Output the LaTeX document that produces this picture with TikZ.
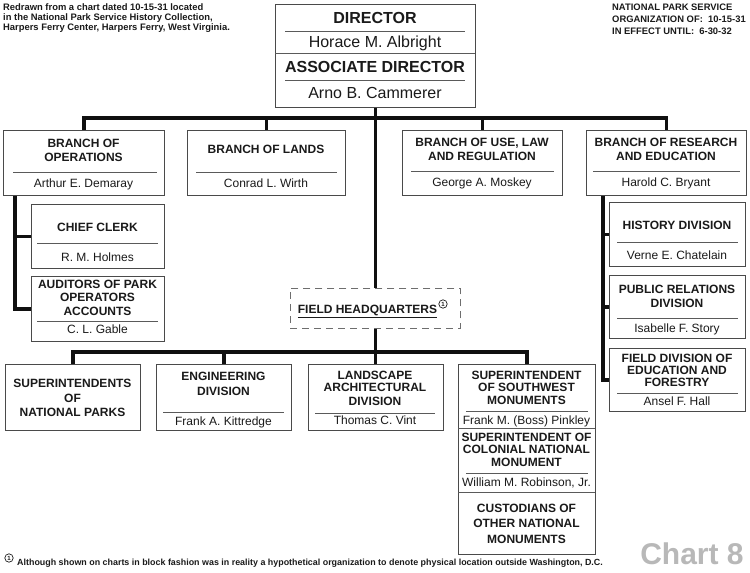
\documentclass[tikz,border=0pt]{standalone}
\usepackage{fontspec}
\setmainfont{Liberation Sans}
\definecolor{txtc}{HTML}{1A1A1A}
\definecolor{boxc}{HTML}{4A4A4A}
\definecolor{sepc}{HTML}{5A5A5A}
\definecolor{linec}{HTML}{101010}
\definecolor{chartc}{HTML}{B8B8B8}
\tikzset{
  orgbox/.style={draw=boxc, line width=0.9pt, inner sep=0pt, anchor=north west},
  conn/.style={draw=linec, line width=3.6pt, line join=miter},
  sepl/.style={draw=sepc, line width=0.7pt},
  hd/.style={font=\bfseries\fontsize{12}{14}\selectfont, anchor=base, inner sep=0pt, text=txtc},
  nm/.style={font=\fontsize{12}{14}\selectfont, anchor=base, inner sep=0pt, text=txtc},
  bighd/.style={font=\bfseries\fontsize{16}{18}\selectfont, anchor=base, inner sep=0pt, text=txtc},
  bignm/.style={font=\fontsize{16}{18}\selectfont, anchor=base, inner sep=0pt, text=txtc},
  note/.style={font=\bfseries\fontsize{9.4}{10}\selectfont, anchor=base west, inner sep=0pt, text=txtc},
  rnote/.style={font=\bfseries\fontsize{9.4}{12}\selectfont, anchor=base west, inner sep=0pt, text=txtc},
  fnmark/.style={draw=txtc, circle, line width=0.7pt, inner sep=1.1pt, font=\bfseries\fontsize{6}{6}\selectfont, text=txtc},
}
\begin{document}
\begin{tikzpicture}[x=1pt,y=-1pt]
\fill[white] (0,0) rectangle (750,573);
\useasboundingbox (0,0) rectangle (750,573);

% notes
\node[note] (tl1) at (3,10) {Redrawn from a chart dated 10-15-31 located};
\node[note] (tl2) at (3,20) {in the National Park Service History Collection,};
\node[note] (tl3) at (3,30) {Harpers Ferry Center, Harpers Ferry, West Virginia.};
\node[rnote] (tr1) at (612,10.5) {NATIONAL PARK SERVICE};
\node[rnote] (tr2) at (612,22.5) {ORGANIZATION OF:\ \ 10-15-31};
\node[rnote] (tr3) at (612,34.5) {IN EFFECT UNTIL:\ \ 6-30-32};

% director
\node[orgbox, minimum width=200pt, minimum height=103pt] (dir) at (275,4) {};
\node[bighd] (dir1) at (375,23) {DIRECTOR};
\draw[sepl] (285,31) -- (465,31);
\node[bignm] (dir2) at (375,47) {Horace M. Albright};
\draw[sepl] (275,53) -- (475,53);
\node[bighd] (dir3) at (375,72) {ASSOCIATE DIRECTOR};
\draw[sepl] (285,80) -- (465,80);
\node[bignm] (dir4) at (375,98) {Arno B. Cammerer};

% branches
\node[orgbox, minimum width=161pt, minimum height=65pt] (ops) at (3,130) {};
\node[hd] (ops1) at (83.5,147) {BRANCH OF};
\node[hd] (ops2) at (83.5,161) {OPERATIONS};
\draw[sepl] (13,172) -- (157,172);
\node[nm] (ops3) at (83.5,187) {Arthur E. Demaray};

\node[orgbox, minimum width=158pt, minimum height=65pt] (lands) at (187,130) {};
\node[hd] (lands1) at (266,153) {BRANCH OF LANDS};
\draw[sepl] (196,172) -- (337,172);
\node[nm] (lands2) at (266,187) {Conrad L. Wirth};

\node[orgbox, minimum width=160pt, minimum height=65pt] (use) at (402,130) {};
\node[hd] (use1) at (482,146) {BRANCH OF USE, LAW};
\node[hd] (use2) at (482,160) {AND REGULATION};
\draw[sepl] (411,171) -- (554,171);
\node[nm] (use3) at (482,186) {George A. Moskey};

\node[orgbox, minimum width=160pt, minimum height=65pt] (res) at (586,130) {};
\node[hd] (res1) at (666,146) {BRANCH OF RESEARCH};
\node[hd] (res2) at (666,160) {AND EDUCATION};
\draw[sepl] (593,171) -- (740,171);
\node[nm] (res3) at (666,186) {Harold C. Bryant};

% left column
\node[orgbox, minimum width=133pt, minimum height=64pt] (clerk) at (31,204) {};
\node[hd] (clerk1) at (97.5,231) {CHIEF CLERK};
\draw[sepl] (37,243) -- (158,243);
\node[nm] (clerk2) at (97.5,261) {R. M. Holmes};

\node[orgbox, minimum width=133pt, minimum height=65pt] (aud) at (31,276) {};
\node[hd] (aud1) at (97.5,288) {AUDITORS OF PARK};
\node[hd] (aud2) at (97.5,301) {OPERATORS};
\node[hd] (aud3) at (97.5,315) {ACCOUNTS};
\draw[sepl] (37,321) -- (158,321);
\node[nm] (aud4) at (97.5,333) {C. L. Gable};

% right column
\node[orgbox, minimum width=136pt, minimum height=64pt] (hist) at (609,202) {};
\node[hd] (hist1) at (677,229) {HISTORY DIVISION};
\draw[sepl] (617,242) -- (738,242);
\node[nm] (hist2) at (677,259) {Verne E. Chatelain};

\node[orgbox, minimum width=136pt, minimum height=63pt] (pr) at (609,275) {};
\node[hd] (pr1) at (677,293) {PUBLIC RELATIONS};
\node[hd] (pr2) at (677,307) {DIVISION};
\draw[sepl] (617,318) -- (738,318);
\node[nm] (pr3) at (677,332) {Isabelle F. Story};

\node[orgbox, minimum width=136pt, minimum height=63pt] (fde) at (609,348) {};
\node[hd] (fde1) at (677,362) {FIELD DIVISION OF};
\node[hd] (fde2) at (677,374) {EDUCATION AND};
\node[hd] (fde3) at (677,386) {FORESTRY};
\draw[sepl] (617,393) -- (738,393);
\node[nm] (fde4) at (677,405) {Ansel F. Hall};

% field headquarters
\node[orgbox, draw=boxc!80, dash pattern=on 7pt off 5pt, minimum width=170pt, minimum height=40pt] (fhq) at (290,288) {};
\node[hd] (fhq1) at (367.5,313) {\underline{FIELD HEADQUARTERS}};
\node[fnmark] (fhqn) at (443,304) {1};

% bottom row
\node[orgbox, minimum width=135pt, minimum height=66pt] (sup) at (5,364) {};
\node[hd] (sup1) at (72.5,387) {SUPERINTENDENTS};
\node[hd] (sup2) at (72.5,402) {OF};
\node[hd] (sup3) at (72.5,416) {NATIONAL PARKS};

\node[orgbox, minimum width=135pt, minimum height=66pt] (eng) at (156,364) {};
\node[hd] (eng1) at (223.5,380) {ENGINEERING};
\node[hd] (eng2) at (223.5,395) {DIVISION};
\draw[sepl] (163,412) -- (284,412);
\node[nm] (eng3) at (223.5,425) {Frank A. Kittredge};

\node[orgbox, minimum width=135pt, minimum height=66pt] (land) at (307.5,364) {};
\node[hd] (land1) at (375,379) {LANDSCAPE};
\node[hd] (land2) at (375,391) {ARCHITECTURAL};
\node[hd] (land3) at (375,405) {DIVISION};
\draw[sepl] (315,413) -- (435,413);
\node[nm] (land4) at (375,424) {Thomas C. Vint};

\node[orgbox, minimum width=137pt, minimum height=190pt] (swm) at (458,364) {};
\node[hd] (swm1) at (526.5,379) {SUPERINTENDENT};
\node[hd] (swm2) at (526.5,391) {OF SOUTHWEST};
\node[hd] (swm3) at (526.5,404) {MONUMENTS};
\draw[sepl] (466,411) -- (588,411);
\node[nm] (swm4) at (526.5,424) {Frank M. (Boss) Pinkley};
\draw[sepl] (458,428) -- (595,428);
\node[hd] (swm5) at (526.5,441) {SUPERINTENDENT OF};
\node[hd] (swm6) at (526.5,453) {COLONIAL NATIONAL};
\node[hd] (swm7) at (526.5,466) {MONUMENT};
\draw[sepl] (466,473) -- (588,473);
\node[nm] (swm8) at (526.5,486) {William M. Robinson, Jr.};
\draw[sepl] (458,492) -- (595,492);
\node[hd] (swm9) at (526.5,512) {CUSTODIANS OF};
\node[hd] (swm10) at (526.5,527) {OTHER NATIONAL};
\node[hd] (swm11) at (526.5,543) {MONUMENTS};

% connectors
\coordinate (bus1) at (375,118);
\coordinate (bus2) at (375,352);
\draw[conn] (ops.north) |- (bus1) -| (res.north);
\draw[conn] (lands.north) -- (lands.north |- bus1);
\draw[conn] (use.north) -- (use.north |- bus1);
\draw[conn] (dir.south) -- (fhq.north);
\draw[conn] (sup.north) |- (bus2) -| (swm.north);
\draw[conn] (eng.north) -- (eng.north |- bus2);
\draw[conn] (fhq.south) -- (land.north);
\coordinate (lsp) at ([xshift=12pt]ops.south west);
\draw[conn] (lsp) |- (aud.west);
\draw[conn] (clerk.west) -- (clerk.west -| lsp);
\coordinate (rsp) at ([xshift=17pt]res.south west);
\draw[conn] (rsp) |- (fde.west);
\draw[conn] (hist.west) -- (hist.west -| rsp);
\draw[conn] (pr.west) -- (pr.west -| rsp);

% footnote
\node[fnmark] (fnc) at (9,558) {1};
\node[font=\bfseries\fontsize{8.9}{10}\selectfont, anchor=base west, inner sep=0pt, text=txtc] (fnote) at (17,565) {Although shown on charts in block fashion was in reality a hypothetical organization to denote physical location outside Washington, D.C.};
\node[font=\bfseries\fontsize{30}{31}\selectfont, anchor=base, inner sep=0pt, text=chartc] (chart) at (692,564) {Chart 8};
\end{tikzpicture}
\end{document}
